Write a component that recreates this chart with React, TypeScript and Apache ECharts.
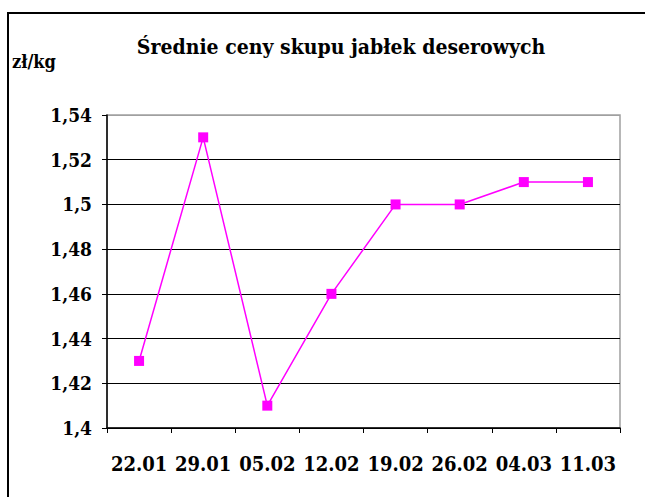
import React, { useEffect, useRef } from "react";
import * as echarts from "echarts";

const categories = ["22.01", "29.01", "05.02", "12.02", "19.02", "26.02", "04.03", "11.03"];
const prices = [1.43, 1.53, 1.41, 1.46, 1.5, 1.5, 1.51, 1.51];
const titleText = "Średnie ceny skupu jabłek deserowych";
const unitText = "zł/kg";

export default function App() {
  const ref = useRef<HTMLDivElement>(null);
  useEffect(() => {
    if (!ref.current) return;
    const chart = echarts.init(ref.current, null, { renderer: "svg" });
    const font = "DejaVu Serif Condensed";
    chart.setOption({
      animation: false,
      backgroundColor: "#fff",
      title: {
        text: titleText,
        left: 336,
        textAlign: "center",
        top: 31,
        textStyle: { fontFamily: font, fontWeight: "bold", fontSize: 21, color: "#000" },
      },
      graphic: [
        {
          type: "rect",
          shape: { x: 8, y: 13, width: 680, height: 520 },
          style: { fill: "none", stroke: "#000", lineWidth: 2 },
          silent: true,
        },
        {
          type: "text",
          x: 12,
          y: 52,
          style: { text: unitText, fontFamily: font, fontWeight: "bold", fontSize: 18, fill: "#000" },
        },
      ],
      grid: {
        left: 107,
        top: 115,
        width: 513,
        height: 313,
        show: true,
        borderColor: "#a0a0a0",
        borderWidth: 1.5,
        backgroundColor: "transparent",
      },
      xAxis: {
        type: "category",
        data: categories,
        boundaryGap: true,
        axisLine: { lineStyle: { color: "#000", width: 1.5 } },
        axisTick: { show: true, inside: false, length: 5, lineStyle: { color: "#000" } },
        axisLabel: {
          fontFamily: font,
          fontWeight: "bold",
          fontSize: 20,
          color: "#000",
          margin: 26,
          interval: 0,
        },
        splitLine: { show: false },
      },
      yAxis: {
        type: "value",
        min: 1.4,
        max: 1.54,
        interval: 0.02,
        axisLine: { show: true, lineStyle: { color: "#000", width: 1.5 } },
        axisTick: { show: true, length: 5, lineStyle: { color: "#000" } },
        axisLabel: {
          fontFamily: font,
          fontWeight: "bold",
          fontSize: 19,
          color: "#000",
          margin: 15,
          formatter: (v: number) => String(Math.round(v * 100) / 100).replace(".", ","),
        },
        splitLine: {
          show: true,
          lineStyle: {
            color: ["#000", "#000", "#000", "#000", "#000", "#000", "#000", "#a0a0a0"],
            width: 1,
          },
        },
      },
      series: [
        {
          type: "line",
          data: prices,
          symbol: "rect",
          symbolSize: 10,
          lineStyle: { color: "#ff00ff", width: 1.5 },
          itemStyle: { color: "#ff00ff" },
        },
      ],
    });
    return () => chart.dispose();
  }, []);
  return (
    <div
      ref={ref}
      style={{ position: "absolute", left: 0, top: 0, width: 645, height: 497 }}
    />
  );
}
